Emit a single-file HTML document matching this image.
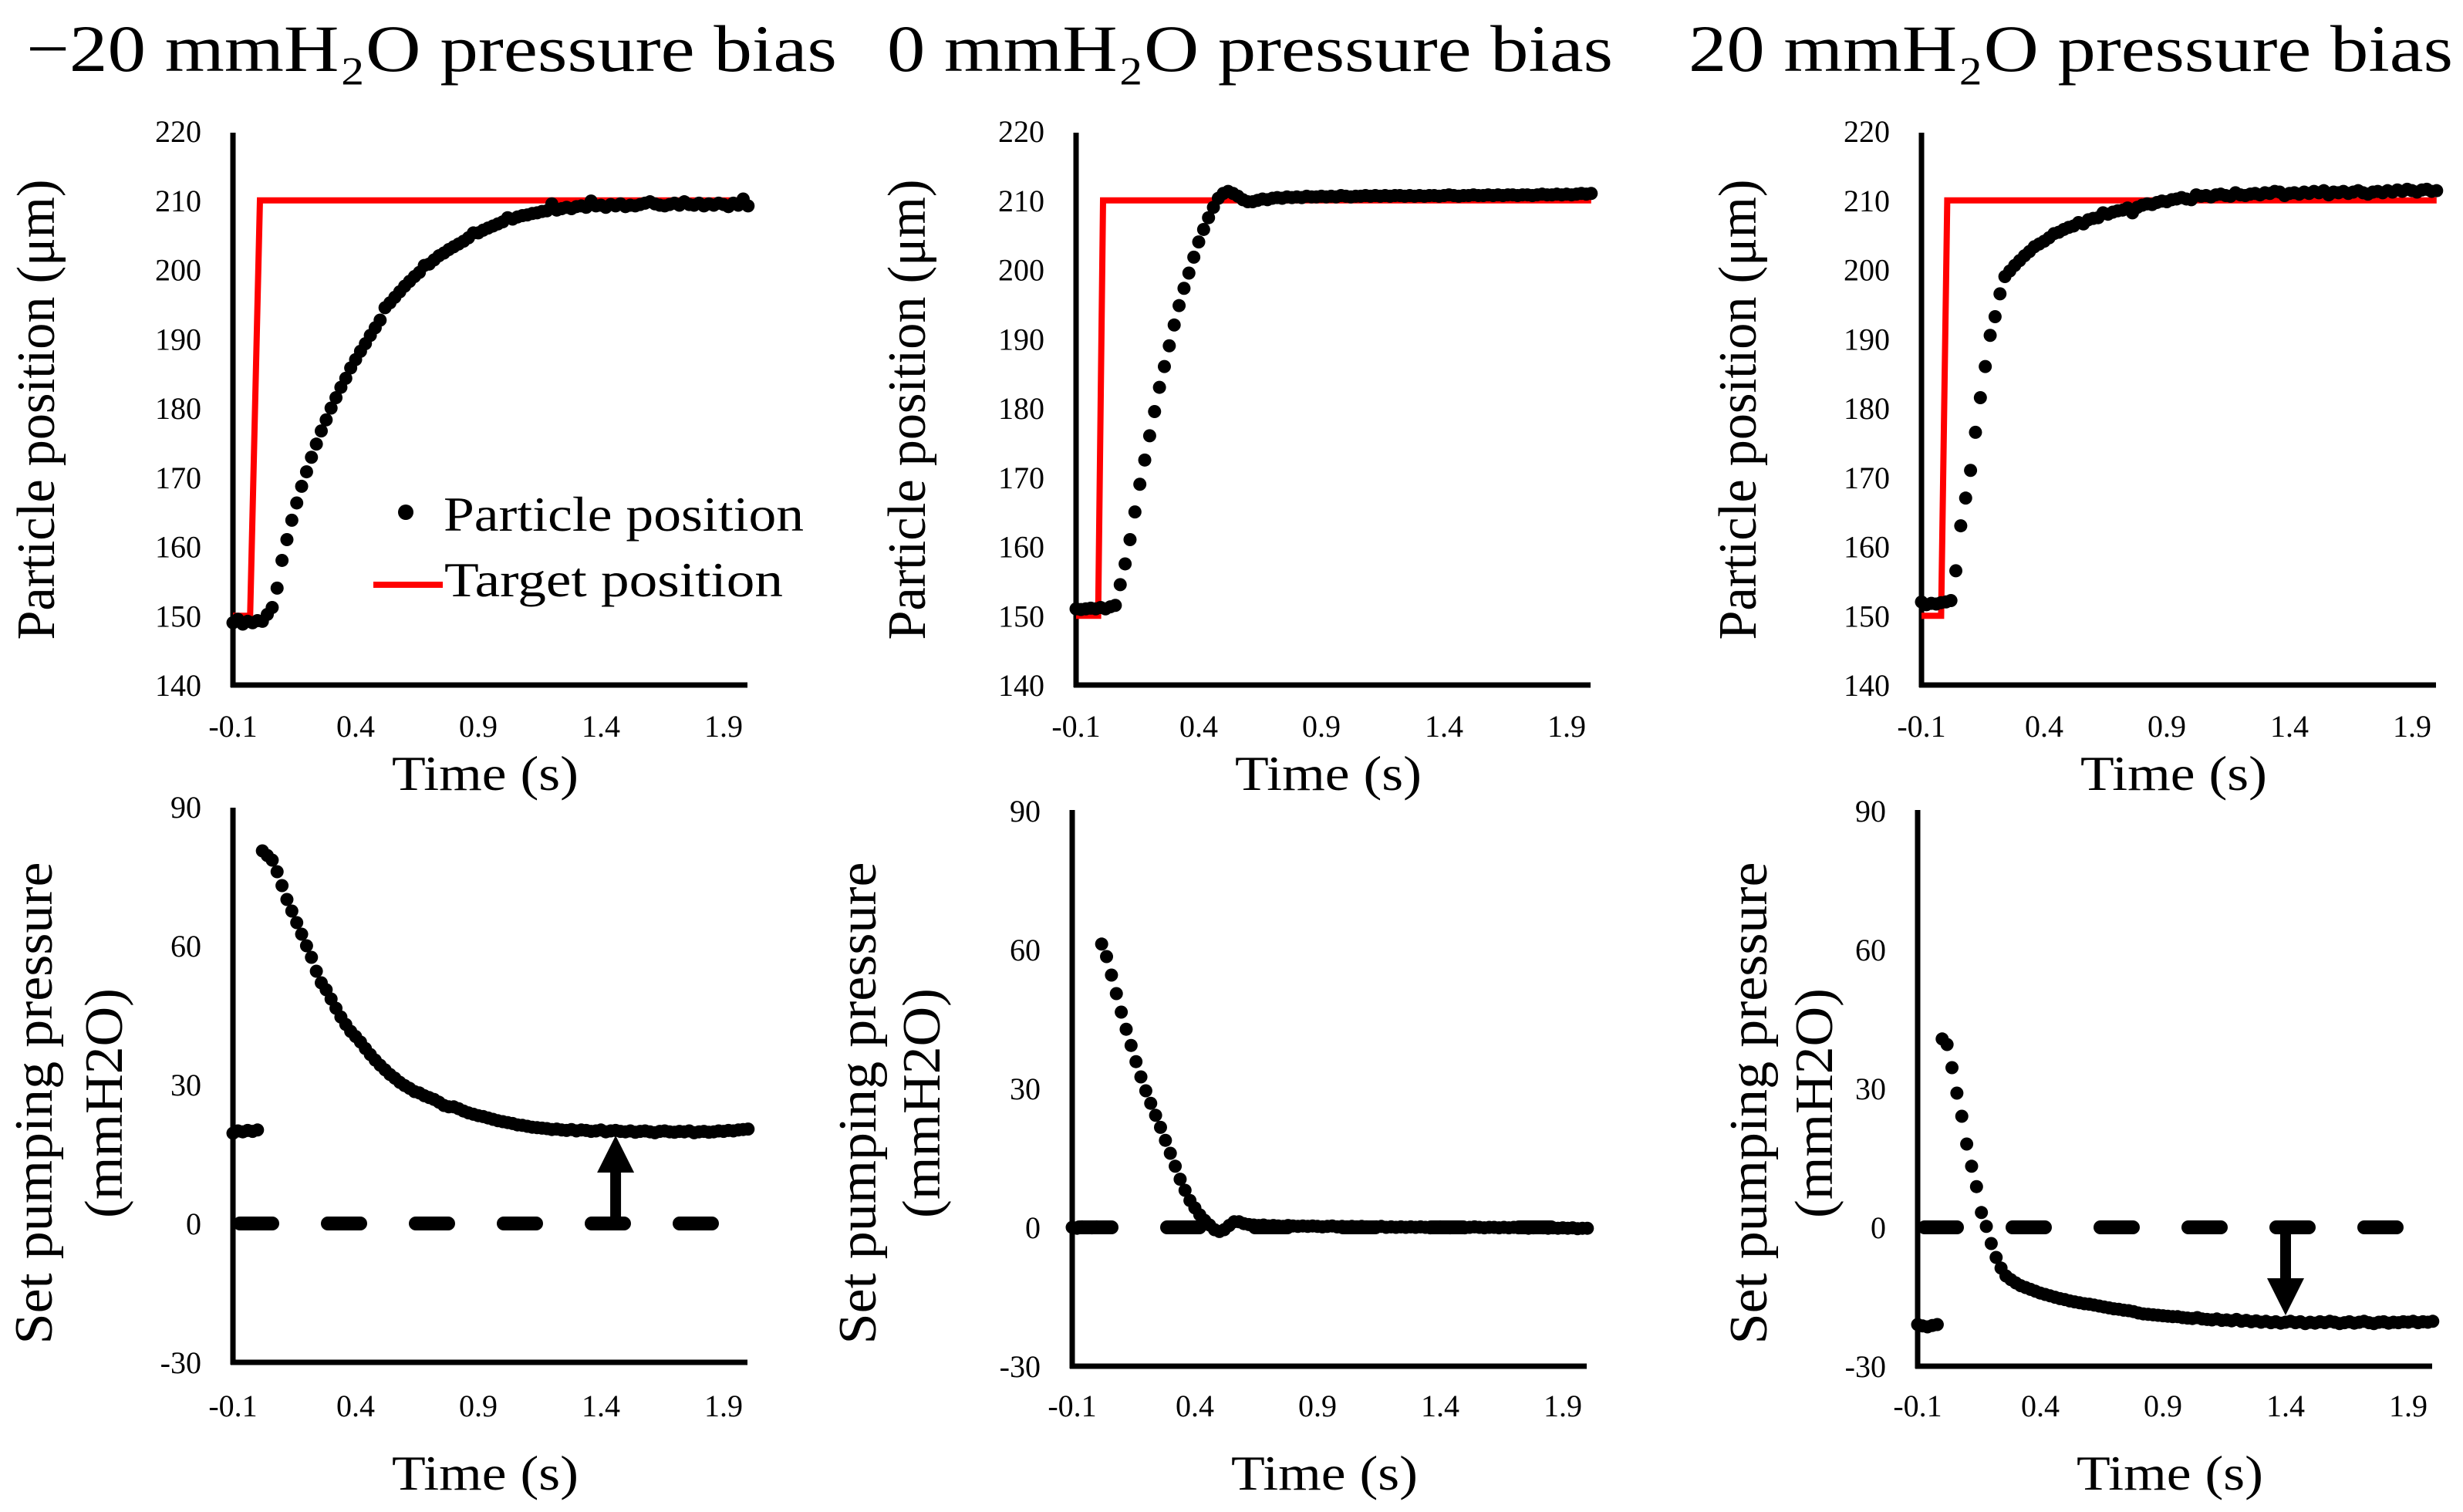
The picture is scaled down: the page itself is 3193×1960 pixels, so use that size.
<!DOCTYPE html>
<html><head><meta charset="utf-8">
<style>
html,body{margin:0;padding:0;background:#fff;}
svg{display:block;}
text{font-family:"Liberation Serif","Noto Serif CJK SC",serif;fill:#000;}
</style></head>
<body>
<svg id="fig" xmlns="http://www.w3.org/2000/svg" width="3193" height="1960" viewBox="0 0 3193 1960">
<rect width="3193" height="1960" fill="#fff"/>
<text x="34" y="92" font-size="86" textLength="1051" lengthAdjust="spacingAndGlyphs">−20 mmH₂O pressure bias</text>
<text x="1150" y="92" font-size="86" textLength="941" lengthAdjust="spacingAndGlyphs">0 mmH₂O pressure bias</text>
<text x="2189" y="92" font-size="86" textLength="991" lengthAdjust="spacingAndGlyphs">20 mmH₂O pressure bias</text>
</svg>
<script>
// time sampling: t = T0 + i*DT
const T0 = -0.1, DT = 0.02;
const xTicks = [-0.1, 0.4, 0.9, 1.4, 1.9];
const xTickLabels = ["-0.1", "0.4", "0.9", "1.4", "1.9"];
const posTicks = [140, 150, 160, 170, 180, 190, 200, 210, 220];
const presTicks = [-30, 0, 30, 60, 90];

const pos1 = [149,149.5,148.8,149.2,149,149.3,149.2,150.2,151.2,154,
158,161,163.8,166.3,168.7,170.8,172.9,174.8,176.7,178.3,
180,181.5,183,184.3,185.8,187,188.2,189.3,190.5,191.6,
192.7,194.5,195.2,196,196.8,197.6,198.3,199,199.6,200.6,
200.8,201.4,202,202.4,202.9,203.3,203.7,204.1,204.6,205.3,
205.3,205.7,206,206.3,206.6,206.9,207.5,207.3,207.6,207.8,
207.9,208.1,208.2,208.4,208.5,209.5,208.6,208.8,209,208.8,
209.1,209.2,209,209.9,209.2,209.3,209,209.4,209.2,209.5,
209.1,209.3,209.2,209.4,209.6,209.8,209.5,209.3,209.2,209.4,
209.6,209.3,209.8,209.4,209.3,209.6,209.2,209.5,209.3,209.6,
209.4,209.1,209.6,209.3,210.2,209.2];
const pos2 = [151,150.9,151,151.1,151,151.2,151,151.3,151.5,154.5,
157.5,161,165,169,172.5,176,179.5,183,186,189,
192,194.8,197.3,199.5,201.8,204,205.8,207.5,209,210.3,
211,211.3,211,210.6,210.1,209.8,209.8,210,210.2,210.1,
210.3,210.4,210.3,210.5,210.4,210.5,210.4,210.6,210.5,210.5,
210.6,210.5,210.6,210.5,210.7,210.6,210.5,210.6,210.6,210.7,
210.6,210.7,210.6,210.7,210.6,210.7,210.7,210.6,210.7,210.6,
210.7,210.6,210.7,210.7,210.6,210.7,210.8,210.7,210.6,210.7,
210.7,210.8,210.7,210.7,210.8,210.7,210.8,210.7,210.8,210.8,
210.7,210.8,210.8,210.7,210.8,210.9,210.8,210.8,210.9,210.8,
210.9,210.8,210.9,211,210.9,211];
const pos3 = [152,151.6,151.8,151.7,151.9,152,152.2,156.5,163,167,
171,176.5,181.5,186,190.5,193.2,196.5,199,199.8,200.6,
201.3,202,202.6,203.3,203.7,204.1,204.6,205.2,205.4,205.8,
206.1,206.3,206.8,206.6,207.2,207.4,207.5,208.2,208,208.3,
208.5,208.6,208.9,208.2,209,209.3,209.5,209.4,209.7,209.9,
209.8,210.1,210.2,210.4,210.2,210.1,210.8,210.6,210.7,210.5,
210.8,210.9,210.7,210.6,211.1,210.8,210.7,210.9,211,210.8,
211.1,211,211.3,211.2,210.7,211,211.1,210.9,211.2,211,
211.3,211.1,211.4,210.8,211.2,211.1,211.3,211,211.2,211.4,
211.1,210.9,211.2,211.3,211.1,211.4,211.2,211.5,211.3,211.6,
211.4,211.2,211.5,211.6,211.3,211.4];

const targetT1 = [-0.1, -0.03, 0.01, 2.0];
const targetT2 = [-0.1, -0.01, 0.01, 2.0];
const targetT3 = [-0.1, -0.02, 0.005, 2.0];
const targetV = [150, 150, 210, 210];

const pres1 = [19.5,20,19.8,20.1,19.9,20.2,80.5,79.5,78.5,76,
73,70,67.5,65,62.5,60,57.5,54.5,52,50.5,
48.5,46.5,44.6,43,41.5,40.4,39.2,37.8,36.5,35.3,
34.2,33.2,32.2,31.4,30.5,29.8,29.2,28.5,28.2,27.6,
27.2,26.8,26.2,25.5,25.2,25.2,24.8,24.3,23.9,23.6,
23.3,23.1,22.8,22.5,22.2,22,21.8,21.6,21.3,21.2,
21,20.8,20.7,20.6,20.5,20.3,20.4,20.2,20.1,20.3,
20,20.2,20.1,19.9,20,20.2,19.8,20,20.1,19.9,
19.8,20,19.7,19.9,20,19.8,19.6,19.9,20,19.8,
19.7,19.9,19.8,20,19.6,19.8,19.9,19.7,19.8,20,
19.9,20.1,20,20.2,20.3,20.4];
const pres2 = [0,-0.2,0.1,0,-0.1,0.1,61.2,58.5,54.5,50.5,
46.5,42.8,39.3,35.8,32.5,29.5,26.8,24.2,21.6,18.8,
16,13.2,10.4,8,5.8,4.2,2.7,1.5,0.5,-0.5,
-0.9,-0.5,0.4,1.2,1.2,0.8,0.6,0.5,0.4,0.5,
0.3,0.4,0.3,0.2,0.4,0.3,0.2,0.3,0.2,0.3,
0.2,0.1,0.2,0.3,0.1,0.2,0.1,0.2,0.1,0.2,
0.1,0,0.1,0.2,0,0.1,0,0.1,0,0.1,
0,0.1,0,-0.1,0,0.1,0,-0.1,0,0,
-0.1,0,0.1,0,-0.1,0,0,-0.1,0,-0.1,
0,-0.1,0,-0.2,-0.1,0,-0.1,-0.2,-0.1,-0.2,
-0.1,-0.2,-0.1,-0.3,-0.2,-0.2];
const pres3 = [-21,-21.3,-21.5,-21.2,-21,40.7,39.5,34.5,29,24,
18,13.2,8.8,3.2,0.2,-3.5,-6.5,-8.8,-10.5,-11.3,
-12,-12.6,-13,-13.4,-13.8,-14.2,-14.5,-14.8,-15.1,-15.4,
-15.6,-15.9,-16.1,-16.3,-16.5,-16.6,-16.8,-17,-17.2,-17.4,
-17.6,-17.7,-17.9,-18,-18.2,-18.5,-18.7,-18.8,-18.9,-19,
-19.1,-19.2,-19.3,-19.3,-19.5,-19.6,-19.7,-19.5,-19.8,-19.9,
-20,-19.8,-20.1,-20,-20.2,-19.9,-20.3,-20.1,-20.4,-20.2,
-20.5,-20.3,-20.6,-20.4,-20.7,-20.5,-20.3,-20.6,-20.4,-20.8,
-20.5,-20.7,-20.4,-20.6,-20.3,-20.5,-20.8,-20.6,-20.4,-20.7,
-20.5,-20.3,-20.6,-20.8,-20.5,-20.4,-20.7,-20.5,-20.6,-20.4,
-20.5,-20.3,-20.6,-20.4,-20.5,-20.3];

const refT = [-0.1, 1.87];
const refV = [0, 0];
const arrow1 = [1.46, 0, 19];
const arrow3 = [1.4, 0, -19];

const NS = "http://www.w3.org/2000/svg";
const svg = document.getElementById("fig");
function mk(tag, attrs, parent) {
  const e = document.createElementNS(NS, tag);
  for (const k in attrs) e.setAttribute(k, attrs[k]);
  (parent || svg).appendChild(e);
  return e;
}

function panel(cfg) {
  const g = mk("g", {});
  
  
  const xs = t => cfg.ax + (t - T0) * 318;
  const ys = v => cfg.yBase - (v - cfg.vmin) * cfg.ppu;
  // axes
  const yax = mk("line", {x1: cfg.ax, y1: cfg.yTop, x2: cfg.ax, y2: cfg.yBase + 3, stroke: "#000", "stroke-width": 7}, g);
  
  
  const xax = mk("line", {x1: cfg.ax - 3, y1: cfg.yBase, x2: cfg.ax + 667, y2: cfg.yBase, stroke: "#000", "stroke-width": 7}, g);
  
  
  // y ticks
  cfg.yTicks.forEach(v => {
    const t = mk("text", {x: cfg.ax - 41, y: ys(v) + 14, "font-size": 40, "text-anchor": "end"}, g);
    
    
    t.textContent = String(v);
  });
  xTicks.forEach((v, i) => {
    const t = mk("text", {x: xs(v), y: cfg.xLabY, "font-size": 40, "text-anchor": "middle"}, g);
    
    
    t.textContent = xTickLabels[i];
  });
  const xt = mk("text", {x: cfg.ax + 327, y: cfg.xTitleY, "font-size": 63, "text-anchor": "middle", textLength: 242, lengthAdjust: "spacingAndGlyphs"}, g);
  
  
  xt.textContent = "Time (s)";
  // y titles
  cfg.yTitles.forEach(yt => {
    const t = mk("text", {transform: `translate(${yt.x},${yt.cy}) rotate(-90)`, "font-size": 70, "text-anchor": "middle", textLength: yt.len, lengthAdjust: "spacingAndGlyphs"}, g);
    
    
    t.textContent = yt.text;
  });
  // reference dashed line
  if (cfg.ref) {
    const l = mk("line", {x1: xs(refT[0]) + 9, y1: ys(refV[0]), x2: xs(refT[1]), y2: ys(refV[1]), stroke: "#000", "stroke-width": 18, "stroke-linecap": "round", "stroke-dasharray": "42 72"}, g);
    
    
  }
  // target line
  if (cfg.targetT) {
    const pts = cfg.targetT.map((t, i) => xs(t) + "," + ys(targetV[i])).join(" ");
    const pl = mk("polyline", {points: pts, fill: "none", stroke: "#ff0000", "stroke-width": 8}, g);
    
    
  }
  // dots
  cfg.data.forEach((v, i) => {
    const c = mk("circle", {cx: xs(T0 + i * DT), cy: ys(v), r: 8.5, fill: "#000"}, g);
    
    
  });
  // arrow
  if (cfg.arrow) {
    const [at, a0, a1] = cfg.arrow;
    const x = xs(at), y0 = ys(a0), y1 = ys(a1);
    const dir = y1 < y0 ? 1 : -1;
    const hb = y1 + dir * 48;
    const sh = mk("line", {x1: x, y1: y0, x2: x, y2: hb, stroke: "#000", "stroke-width": 14}, g);
    
    
    const hd = mk("polygon", {points: `${x},${y1} ${x - 24},${hb} ${x + 24},${hb}`, fill: "#000"}, g);
    
    
  }
}

const posTitle = "Particle position (μm)";
panel({name: "position-panel-minus20", ax: 302, yBase: 888, yTop: 172, vmin: 140, ppu: 8.975, yTicks: posTicks, xLabY: 955, xTitleY: 1024,
  yTitles: [{x: 70, cy: 531, len: 597, text: posTitle}], targetT: targetT1, data: pos1, dotName: "particle-position-point"});
panel({name: "position-panel-0", ax: 1395, yBase: 888, yTop: 172, vmin: 140, ppu: 8.975, yTicks: posTicks, xLabY: 955, xTitleY: 1024,
  yTitles: [{x: 1199, cy: 531, len: 597, text: posTitle}], targetT: targetT2, data: pos2, dotName: "particle-position-point"});
panel({name: "position-panel-plus20", ax: 2491, yBase: 888, yTop: 172, vmin: 140, ppu: 8.975, yTicks: posTicks, xLabY: 955, xTitleY: 1024,
  yTitles: [{x: 2276, cy: 531, len: 597, text: posTitle}], targetT: targetT3, data: pos3, dotName: "particle-position-point"});

panel({name: "pressure-panel-minus20", ax: 302, yBase: 1766, yTop: 1047, vmin: -30, ppu: 6.0, yTicks: presTicks, xLabY: 1836, xTitleY: 1931,
  yTitles: [{x: 67, cy: 1430, len: 625, text: "Set pumping pressure"}, {x: 158, cy: 1430, len: 298, text: "(mmH2O)"}],
  ref: true, data: pres1, dotName: "pumping-pressure-point", arrow: arrow1});
panel({name: "pressure-panel-0", ax: 1390, yBase: 1771, yTop: 1050, vmin: -30, ppu: 6.0, yTicks: presTicks, xLabY: 1836, xTitleY: 1931,
  yTitles: [{x: 1135, cy: 1430, len: 625, text: "Set pumping pressure"}, {x: 1218, cy: 1430, len: 298, text: "(mmH2O)"}],
  ref: true, data: pres2, dotName: "pumping-pressure-point"});
panel({name: "pressure-panel-plus20", ax: 2486, yBase: 1771, yTop: 1050, vmin: -30, ppu: 6.0, yTicks: presTicks, xLabY: 1836, xTitleY: 1931,
  yTitles: [{x: 2290, cy: 1430, len: 625, text: "Set pumping pressure"}, {x: 2375, cy: 1430, len: 298, text: "(mmH2O)"}],
  ref: true, data: pres3, dotName: "pumping-pressure-point", arrow: arrow3});

// legend
const lg = mk("g", {});


const ld = mk("circle", {cx: 526, cy: 664, r: 10, fill: "#000"}, lg);


const lt1 = mk("text", {x: 575, y: 688, "font-size": 64, textLength: 467, lengthAdjust: "spacingAndGlyphs"}, lg);


lt1.textContent = "Particle position";
const ll = mk("line", {x1: 484, y1: 758, x2: 574, y2: 758, stroke: "#ff0000", "stroke-width": 8}, lg);


const lt2 = mk("text", {x: 576, y: 773, "font-size": 64, textLength: 439, lengthAdjust: "spacingAndGlyphs"}, lg);


lt2.textContent = "Target position";
</script>
</body></html>
